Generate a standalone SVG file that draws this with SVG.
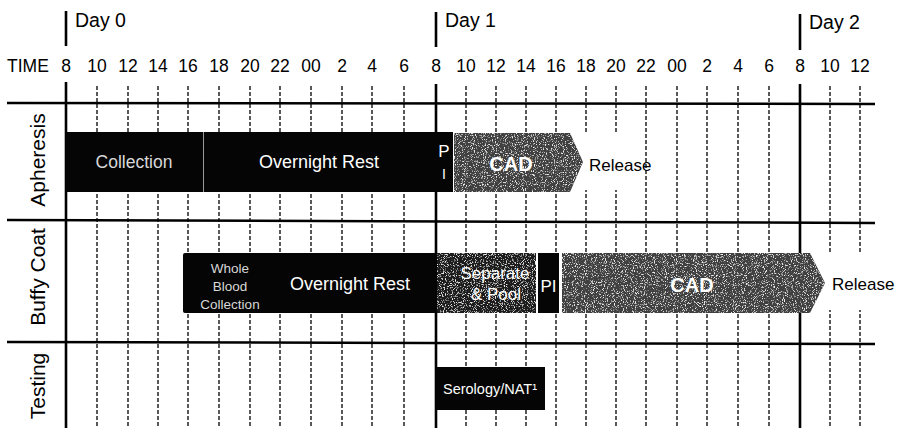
<svg xmlns="http://www.w3.org/2000/svg" width="897" height="428" viewBox="0 0 897 428">
<style>
  text { font-family: "Liberation Sans", Arial, sans-serif; fill: #000; }
  .hdr { font-size: 17.5px; text-anchor: middle; }
  .day { font-size: 19.5px; }
  .row { font-size: 21px; text-anchor: middle; }
  .hline { stroke: #000; stroke-width: 2.5; }
  .solid { stroke: #000; stroke-width: 2.6; }
  .dash { stroke: #000; stroke-width: 1.3; stroke-dasharray: 4 2; }
  .blk { fill: #050505; }
  .cad { fill: #404040; }
  .sep { fill: #1e1e1e; }
  .wt { fill: #fff; text-anchor: middle; }
  .lt { fill: #d8d8d8; text-anchor: middle; }
  .lbl { font-size: 18px; }
</style>
<defs>
  <filter id="grain" x="0" y="0" width="100%" height="100%">
    <feTurbulence type="fractalNoise" baseFrequency="0.9" numOctaves="2" seed="4" result="n"/>
    <feColorMatrix in="n" type="matrix" values="0 0 0 0 0.85  0 0 0 0 0.85  0 0 0 0 0.85  5 0 0 0 -2.75" result="sp"/>
    <feComposite in="sp" in2="SourceGraphic" operator="in" result="sp2"/>
    <feMerge><feMergeNode in="SourceGraphic"/><feMergeNode in="sp2"/></feMerge>
  </filter>
</defs>
<rect width="897" height="428" fill="#fff"/>

<g id="header">
  <line class="solid" x1="66" y1="11" x2="66" y2="46" stroke-width="3"/>
  <line class="solid" x1="436" y1="12" x2="436" y2="47" stroke-width="3"/>
  <line class="solid" x1="800" y1="14" x2="800" y2="50" stroke-width="3"/>
  <text class="day" x="75" y="27">Day 0</text>
  <text class="day" x="445" y="27">Day 1</text>
  <text class="day" x="809" y="29">Day 2</text>
  <text x="7" y="72" style="font-size:17.5px">TIME</text>
  <text class="hdr" x="66" y="72">8</text>
  <text class="hdr" x="97" y="72">10</text>
  <text class="hdr" x="128" y="72">12</text>
  <text class="hdr" x="158" y="72">14</text>
  <text class="hdr" x="188" y="72">16</text>
  <text class="hdr" x="219" y="72">18</text>
  <text class="hdr" x="250" y="72">20</text>
  <text class="hdr" x="280" y="72">22</text>
  <text class="hdr" x="311" y="72">00</text>
  <text class="hdr" x="342" y="72">2</text>
  <text class="hdr" x="372" y="72">4</text>
  <text class="hdr" x="404" y="72">6</text>
  <text class="hdr" x="436" y="72">8</text>
  <text class="hdr" x="466" y="72">10</text>
  <text class="hdr" x="496" y="72">12</text>
  <text class="hdr" x="526" y="72">14</text>
  <text class="hdr" x="556" y="72">16</text>
  <text class="hdr" x="586" y="72">18</text>
  <text class="hdr" x="616" y="72">20</text>
  <text class="hdr" x="646" y="72">22</text>
  <text class="hdr" x="677" y="72">00</text>
  <text class="hdr" x="707" y="72">2</text>
  <text class="hdr" x="738" y="72">4</text>
  <text class="hdr" x="769" y="72">6</text>
  <text class="hdr" x="800" y="72">8</text>
  <text class="hdr" x="830" y="72">10</text>
  <text class="hdr" x="860" y="72">12</text>
</g>

<g id="grid">
  <line class="solid" x1="66" y1="82" x2="66" y2="428"/>
  <line class="solid" x1="436" y1="84" x2="436" y2="428"/>
  <line class="solid" x1="800" y1="84" x2="800" y2="428"/>
  <g class="dash">
    <line x1="97" y1="86" x2="97" y2="428"/>
    <line x1="128" y1="86" x2="128" y2="428"/>
    <line x1="158" y1="86" x2="158" y2="428"/>
    <line x1="188" y1="86" x2="188" y2="428"/>
    <line x1="219" y1="86" x2="219" y2="428"/>
    <line x1="250" y1="86" x2="250" y2="428"/>
    <line x1="280" y1="86" x2="280" y2="428"/>
    <line x1="311" y1="86" x2="311" y2="428"/>
    <line x1="342" y1="86" x2="342" y2="428"/>
    <line x1="372" y1="86" x2="372" y2="428"/>
    <line x1="404" y1="86" x2="404" y2="428"/>
    <line x1="466" y1="86" x2="466" y2="428"/>
    <line x1="496" y1="86" x2="496" y2="428"/>
    <line x1="526" y1="86" x2="526" y2="428"/>
    <line x1="556" y1="86" x2="556" y2="428"/>
    <line x1="586" y1="86" x2="586" y2="428"/>
    <line x1="616" y1="86" x2="616" y2="428"/>
    <line x1="646" y1="86" x2="646" y2="428"/>
    <line x1="677" y1="86" x2="677" y2="428"/>
    <line x1="707" y1="86" x2="707" y2="428"/>
    <line x1="738" y1="86" x2="738" y2="428"/>
    <line x1="769" y1="86" x2="769" y2="428"/>
    <line x1="830" y1="86" x2="830" y2="428"/>
    <line x1="860" y1="86" x2="860" y2="428"/>
  </g>
  <line class="hline" x1="7" y1="103" x2="875" y2="104"/>
  <line class="hline" x1="7" y1="220" x2="875" y2="223"/>
  <line class="hline" x1="7" y1="342" x2="875" y2="344"/>
</g>

<g id="row-labels">
  <text class="row" transform="translate(45,160) rotate(-90)">Apheresis</text>
  <text class="row" transform="translate(45,277) rotate(-90)">Buffy Coat</text>
  <text class="row" transform="translate(45,386) rotate(-90)">Testing</text>
</g>

<g id="apheresis-collection">
  <rect class="blk" x="66" y="132" width="138" height="60"/>
  <text class="lt" x="134" y="168" style="font-size:17.5px">Collection</text>
</g>
<g id="apheresis-rest">
  <rect class="blk" x="203" y="132" width="250" height="60"/>
  <line x1="203.5" y1="132" x2="203.5" y2="192" stroke="#9a9a9a" stroke-width="1"/>
  <text class="wt lbl" x="319" y="168">Overnight Rest</text>
</g>
<g id="apheresis-pi">
  <text class="wt" x="444" y="157" style="font-size:17px">P</text>
  <text class="wt" x="444" y="179" style="font-size:14px">I</text>
</g>
<g id="apheresis-cad">
  <polygon class="cad" filter="url(#grain)" points="454,133 570,133 583,162 570,192 454,192"/>
  <text class="wt" x="511" y="171" style="font-size:20px;font-weight:bold">CAD</text>
</g>
<g id="apheresis-release">
  <rect x="584" y="134" width="40" height="56" fill="#fff"/>
  <text x="589" y="171" style="font-size:17px">Release</text>
</g>

<g id="buffy-collection">
  <rect class="blk" x="183" y="253" width="254" height="60" rx="2"/>
  <text class="lt" x="230" y="273" style="font-size:13.5px">Whole</text>
  <text class="lt" x="230" y="291" style="font-size:13.5px">Blood</text>
  <text class="lt" x="230" y="309" style="font-size:13.5px">Collection</text>
</g>
<g id="buffy-rest">
  <text class="wt lbl" x="350" y="290">Overnight Rest</text>
</g>
<g id="buffy-separate">
  <rect class="sep" filter="url(#grain)" x="437" y="253" width="99" height="60"/>
  <text class="wt" x="495" y="279" style="font-size:17px">Separate</text>
  <text class="wt" x="496" y="300" style="font-size:17px">&amp; Pool</text>
</g>
<g id="buffy-pi">
  <rect class="blk" x="538" y="253" width="21" height="60"/>
  <text class="wt" x="548.5" y="292" style="font-size:17px">PI</text>
</g>
<g id="buffy-cad">
  <polygon class="cad" filter="url(#grain)" points="562,253 810,253 825,283 810,313 562,313"/>
  <text class="wt" x="692" y="292" style="font-size:20px;font-weight:bold">CAD</text>
</g>
<g id="buffy-release">
  <rect x="827" y="254" width="70" height="56" fill="#fff"/>
  <text x="832" y="290" style="font-size:17px">Release</text>
</g>

<g id="testing-serology">
  <rect class="blk" x="436" y="367" width="109" height="43"/>
  <text class="wt" x="490" y="394" style="font-size:14.5px">Serology/NAT¹</text>
</g>
<g id="connectors"></g>
</svg>
